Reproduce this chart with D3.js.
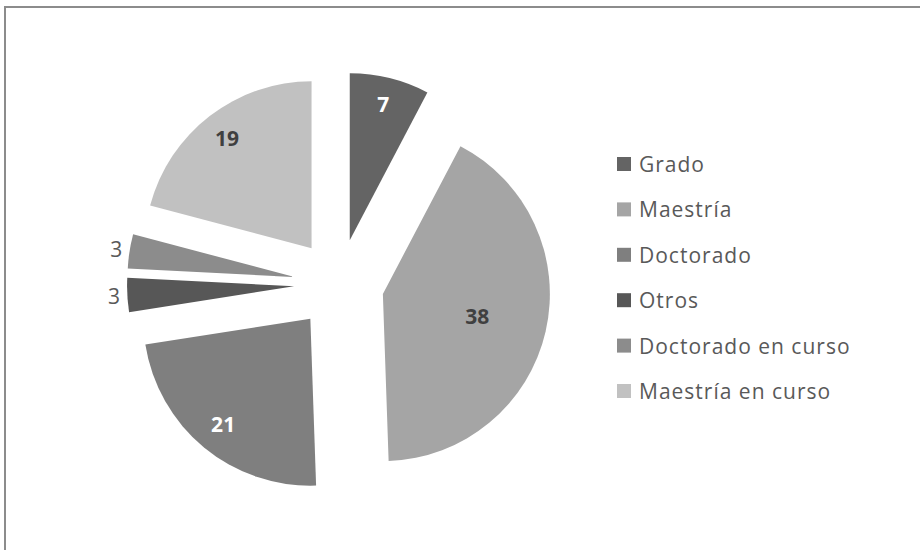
<!DOCTYPE html>
<html>
<head>
<meta charset="utf-8">
<script src="https://cdn.jsdelivr.net/npm/d3@7"></script>
<style>
  html, body { margin: 0; padding: 0; background: #ffffff; }
  svg { display: block; }
</style>
</head>
<body>
<svg id="chart" width="920" height="550"></svg>
<script>
const categories = ["Grado", "Maestría", "Doctorado", "Otros", "Doctorado en curso", "Maestría en curso"];
const values = [7, 38, 21, 3, 3, 19];
const colors = ["#646464", "#a5a5a5", "#7f7f7f", "#575757", "#8c8c8c", "#c1c1c1"];

const W = 920, H = 550;
const cx = 339, cy = 284, R = 167, explode = 45;
const FONT = "'Open Sans', 'Noto Sans', sans-serif";

// label style per slice: inside labels (bold) vs outside labels
const labelStyle = {
  "Grado": { r: 0.84, fill: "#ffffff", weight: "bold" },
  "Maestría": { r: 0.58, fill: "#404040", weight: "bold" },
  "Doctorado": { r: 0.82, fill: "#ffffff", weight: "bold" },
  "Otros": { r: 1.08, fill: "#595959", weight: "normal" },
  "Doctorado en curso": { r: 1.08, fill: "#595959", weight: "normal" },
  "Maestría en curso": { r: 0.83, fill: "#404040", weight: "bold" }
};

const data = categories.map((c, i) => ({ cat: c, value: values[i], color: colors[i] }));

const svg = d3.select("#chart");

// outer frame (cut off at right and bottom)
svg.append("rect")
  .attr("x", 5).attr("y", 7)
  .attr("width", W + 20).attr("height", H + 20)
  .attr("fill", "#ffffff")
  .attr("stroke", "#8c8c8c")
  .attr("stroke-width", 2);

const pie = d3.pie().sort(null).value(d => d.value).startAngle(0).endAngle(2 * Math.PI);
const arcs = pie(data);
const arc = d3.arc().innerRadius(0).outerRadius(R);

const g = svg.append("g").attr("transform", `translate(${cx},${cy})`);

const slices = g.selectAll("g.slice").data(arcs).enter().append("g")
  .attr("class", "slice")
  .attr("transform", d => {
    const a = (d.startAngle + d.endAngle) / 2;
    return `translate(${explode * Math.sin(a)},${-explode * Math.cos(a)})`;
  });

slices.append("path")
  .attr("d", arc)
  .attr("fill", d => d.data.color);

slices.append("text")
  .attr("transform", d => {
    const a = (d.startAngle + d.endAngle) / 2;
    const rr = R * labelStyle[d.data.cat].r;
    return `translate(${rr * Math.sin(a)},${-rr * Math.cos(a)})`;
  })
  .attr("text-anchor", "middle")
  .attr("dominant-baseline", "central")
  .attr("font-family", FONT)
  .attr("font-size", 21)
  .attr("font-weight", d => labelStyle[d.data.cat].weight)
  .attr("fill", d => labelStyle[d.data.cat].fill)
  .text(d => d.data.value);

// legend
const legend = svg.append("g").attr("transform", "translate(617,164)");
const rowH = 45.4;
const items = legend.selectAll("g.item").data(data).enter().append("g")
  .attr("class", "item")
  .attr("transform", (d, i) => `translate(0,${i * rowH})`);
items.append("rect")
  .attr("x", 0).attr("y", -7)
  .attr("width", 14).attr("height", 14)
  .attr("fill", d => d.color);
items.append("text")
  .attr("x", 22).attr("y", 0)
  .attr("dominant-baseline", "central")
  .attr("font-family", FONT)
  .attr("font-size", 21)
  .attr("letter-spacing", 1)
  .attr("fill", "#595959")
  .text(d => d.cat);
</script>
</body>
</html>
